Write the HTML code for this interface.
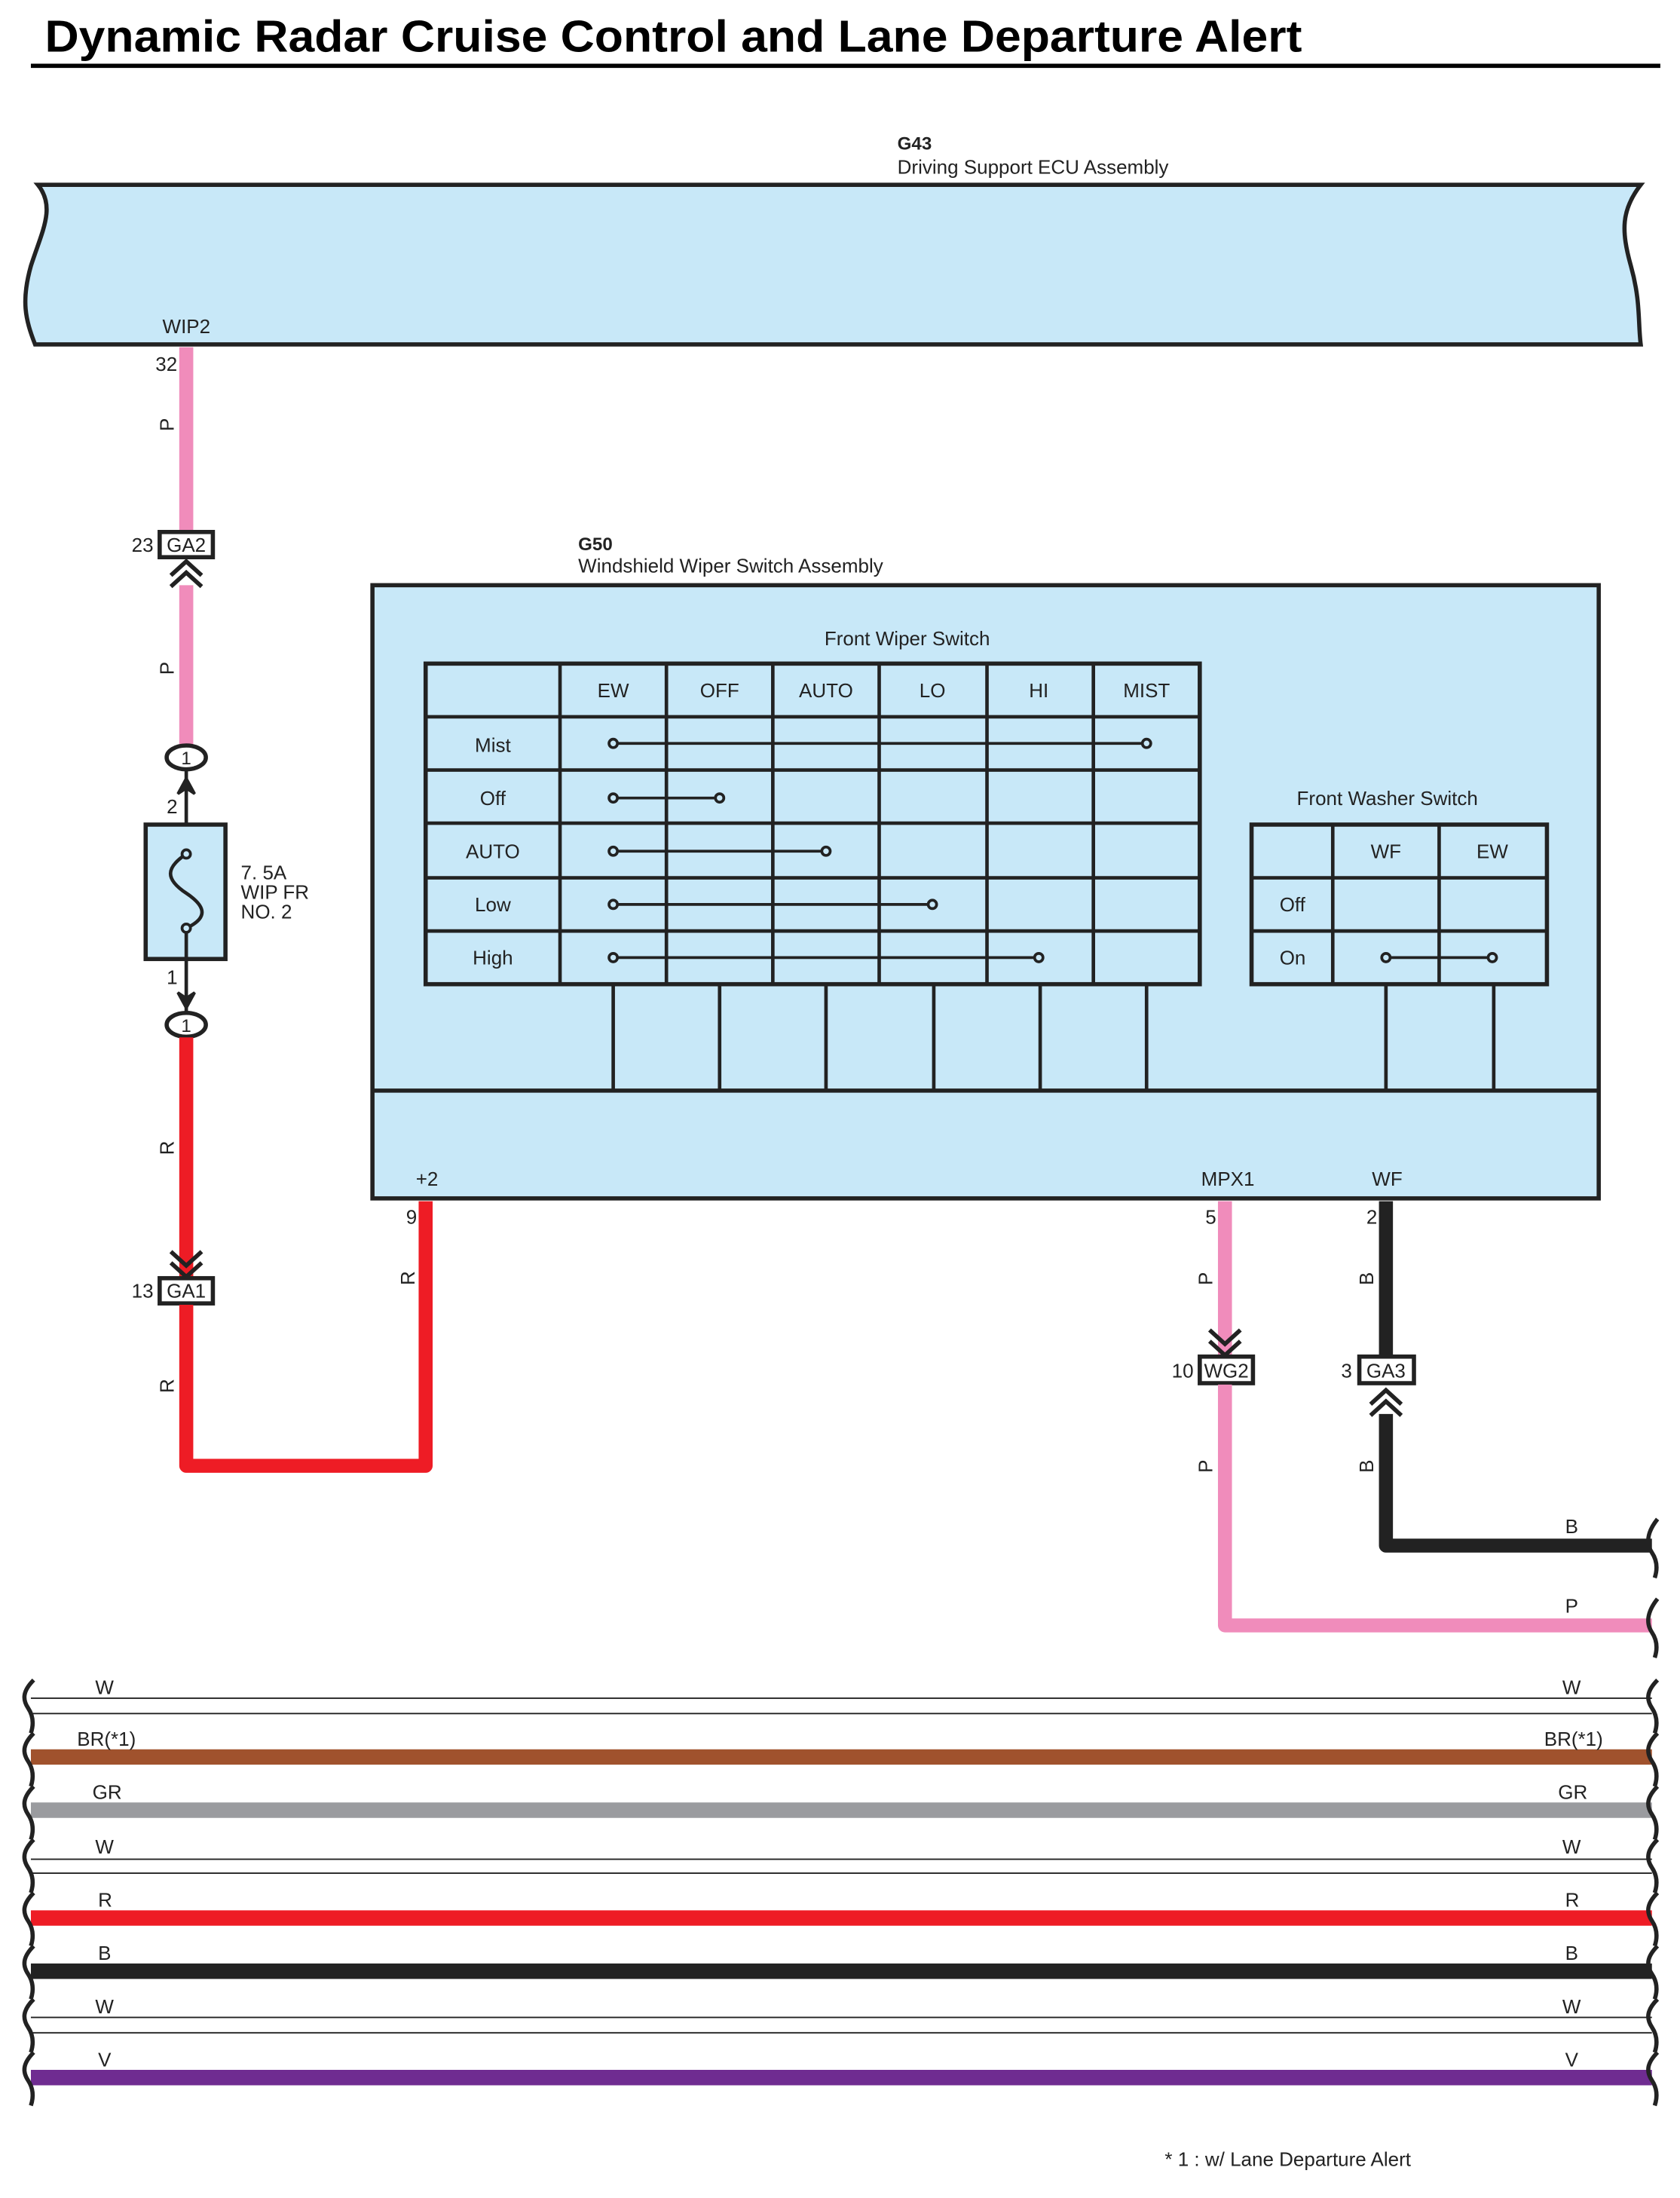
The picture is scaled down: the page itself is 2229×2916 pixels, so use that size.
<!DOCTYPE html>
<html><head><meta charset="utf-8"><style>
html,body{margin:0;padding:0;background:#fff}
svg{display:block}
text{font-family:"Liberation Sans Narrow","Liberation Sans",sans-serif;font-size:14px;fill:#222}
.t{font-family:"Liberation Sans",sans-serif;font-weight:bold;font-size:32px;fill:#000}
.b{font-family:"Liberation Sans",sans-serif;font-weight:bold;font-size:13px}
.c{text-anchor:middle}
</style></head><body>
<svg width="2229" height="2916" viewBox="0 0 1200 1570" xmlns="http://www.w3.org/2000/svg">
<defs>
<g id="dot"><circle r="3" fill="#c8e8f8" stroke="#222" stroke-width="2"/></g>
</defs>
<text x="32" y="37" class="t" textLength="898" lengthAdjust="spacingAndGlyphs">Dynamic Radar Cruise Control and Lane Departure Alert</text>
<line x1="22" y1="47" x2="1186" y2="47" stroke="#000" stroke-width="3"/>

<!-- G43 -->
<text x="641" y="107" class="b">G43</text>
<text x="641" y="124">Driving Support ECU Assembly</text>
<path d="M27,132 L1172,132 C1158,150 1158,165 1165,190 C1172,215 1170,230 1172,246 L25,246 C18,228 15,215 22,190 C30,165 40,148 27,132 Z" fill="#c8e8f8" stroke="#222" stroke-width="3"/>
<text x="116" y="238">WIP2</text>
<text x="111" y="265">32</text>

<!-- left pink wire -->
<line x1="133" y1="248" x2="133" y2="380" stroke="#f08cbb" stroke-width="10"/>
<text transform="translate(124,308) rotate(-90)">P</text>
<rect x="114" y="380" width="38" height="18" fill="#fff" stroke="#222" stroke-width="3"/>
<text x="133" y="394" class="c">GA2</text>
<text x="94" y="394">23</text>
<line x1="133" y1="418" x2="133" y2="533" stroke="#f08cbb" stroke-width="10"/>
<path d="M122,411 L133,401 L144,411 M122,419 L133,409 L144,419" fill="none" stroke="#222" stroke-width="3"/>
<text transform="translate(124,482) rotate(-90)">P</text>
<ellipse cx="133" cy="541" rx="14" ry="8.5" fill="#fff" stroke="#222" stroke-width="3"/>
<text x="133" y="546" class="c" style="font-size:13px">1</text>
<line x1="133" y1="550" x2="133" y2="590" stroke="#222" stroke-width="2.5"/>
<path d="M127,567 L133,556 L139,567 L133,563 Z" fill="#222" stroke="#222" stroke-width="2"/>
<text x="119" y="581">2</text>
<rect x="104" y="589" width="57" height="96" fill="#c8e8f8" stroke="#222" stroke-width="3"/>
<path d="M133,610 C118,620 118,628 133,638 C148,648 148,656 133,663" fill="none" stroke="#222" stroke-width="2.5"/>
<line x1="133" y1="663" x2="133" y2="685" stroke="#222" stroke-width="2.5"/>
<circle cx="133" cy="610" r="3" fill="#c8e8f8" stroke="#222" stroke-width="2"/>
<circle cx="133" cy="663" r="3" fill="#c8e8f8" stroke="#222" stroke-width="2"/>
<text x="172" y="628">7. 5A</text>
<text x="172" y="642">WIP FR</text>
<text x="172" y="656">NO. 2</text>
<line x1="133" y1="685" x2="133" y2="724" stroke="#222" stroke-width="2.5"/>
<path d="M127,709 L133,720 L139,709 L133,713 Z" fill="#222" stroke="#222" stroke-width="2"/>
<text x="119" y="703">1</text>
<ellipse cx="133" cy="732" rx="14" ry="8.5" fill="#fff" stroke="#222" stroke-width="3"/>
<text x="133" y="737" class="c" style="font-size:13px">1</text>

<!-- red wire -->
<path d="M133,741 L133,913" stroke="#ee1c25" stroke-width="10" fill="none"/>
<text transform="translate(124,825) rotate(-90)">R</text>
<path d="M122,894 L133,904 L144,894 M122,902 L133,912 L144,902" fill="none" stroke="#222" stroke-width="3"/>
<rect x="114" y="913" width="38" height="18" fill="#fff" stroke="#222" stroke-width="3"/>
<text x="133" y="927" class="c">GA1</text>
<text x="94" y="927">13</text>
<path d="M133,932 L133,1047 L304,1047 L304,858" stroke="#ee1c25" stroke-width="10" fill="none" stroke-linejoin="round"/>
<text transform="translate(124,995) rotate(-90)">R</text>
<text transform="translate(296,918) rotate(-90)">R</text>
<text x="290" y="874">9</text>

<!-- G50 -->
<text x="413" y="393" class="b">G50</text>
<text x="413" y="409">Windshield Wiper Switch Assembly</text>
<rect x="266" y="418" width="876" height="438" fill="#c8e8f8" stroke="#222" stroke-width="3"/>
<line x1="266" y1="779" x2="1142" y2="779" stroke="#222" stroke-width="3"/>
<text x="297" y="847">+2</text>
<text x="858" y="847">MPX1</text>
<text x="980" y="847">WF</text>
<text x="648" y="461" class="c">Front Wiper Switch</text>
<g stroke="#222" stroke-width="2.5" fill="none">
<rect x="304" y="474" width="553" height="229" stroke-width="3"/>
<line x1="400" y1="474" x2="400" y2="703"/><line x1="476" y1="474" x2="476" y2="703"/>
<line x1="552" y1="474" x2="552" y2="703"/><line x1="628" y1="474" x2="628" y2="703"/>
<line x1="705" y1="474" x2="705" y2="703"/><line x1="781" y1="474" x2="781" y2="703"/>
<line x1="304" y1="512" x2="857" y2="512"/><line x1="304" y1="550" x2="857" y2="550"/>
<line x1="304" y1="588" x2="857" y2="588"/><line x1="304" y1="627" x2="857" y2="627"/>
<line x1="304" y1="665" x2="857" y2="665"/>
<line x1="438" y1="703" x2="438" y2="779"/><line x1="514" y1="703" x2="514" y2="779"/>
<line x1="590" y1="703" x2="590" y2="779"/><line x1="667" y1="703" x2="667" y2="779"/>
<line x1="743" y1="703" x2="743" y2="779"/><line x1="819" y1="703" x2="819" y2="779"/>
<line x1="438" y1="531" x2="819" y2="531" stroke-width="2"/>
<line x1="438" y1="570" x2="514" y2="570" stroke-width="2"/>
<line x1="438" y1="608" x2="590" y2="608" stroke-width="2"/>
<line x1="438" y1="646" x2="666" y2="646" stroke-width="2"/>
<line x1="438" y1="684" x2="742" y2="684" stroke-width="2"/>
</g>
<use href="#dot" x="438" y="531"/><use href="#dot" x="819" y="531"/>
<use href="#dot" x="438" y="570"/><use href="#dot" x="514" y="570"/>
<use href="#dot" x="438" y="608"/><use href="#dot" x="590" y="608"/>
<use href="#dot" x="438" y="646"/><use href="#dot" x="666" y="646"/>
<use href="#dot" x="438" y="684"/><use href="#dot" x="742" y="684"/>
<g class="c">
<text x="438" y="498" class="c">EW</text><text x="514" y="498" class="c">OFF</text>
<text x="590" y="498" class="c">AUTO</text><text x="666" y="498" class="c">LO</text>
<text x="742" y="498" class="c">HI</text><text x="819" y="498" class="c">MIST</text>
<text x="352" y="537" class="c">Mist</text><text x="352" y="575" class="c">Off</text>
<text x="352" y="613" class="c">AUTO</text><text x="352" y="651" class="c">Low</text>
<text x="352" y="689" class="c">High</text>
</g>
<text x="991" y="575" class="c">Front Washer Switch</text>
<g stroke="#222" stroke-width="2.5" fill="none">
<rect x="894" y="589" width="211" height="114" stroke-width="3"/>
<line x1="952" y1="589" x2="952" y2="703"/><line x1="1028" y1="589" x2="1028" y2="703"/>
<line x1="894" y1="627" x2="1105" y2="627"/><line x1="894" y1="665" x2="1105" y2="665"/>
<line x1="990" y1="703" x2="990" y2="779"/><line x1="1067" y1="703" x2="1067" y2="779"/>
<line x1="990" y1="684" x2="1066" y2="684" stroke-width="2"/>
</g>
<use href="#dot" x="990" y="684"/><use href="#dot" x="1066" y="684"/>
<text x="990" y="613" class="c">WF</text><text x="1066" y="613" class="c">EW</text>
<text x="914" y="651">Off</text><text x="914" y="689">On</text>

<!-- MPX1 pink -->
<line x1="875" y1="858" x2="875" y2="968" stroke="#f08cbb" stroke-width="10"/>
<text x="861" y="874">5</text>
<text transform="translate(866,918) rotate(-90)">P</text>
<path d="M864,950 L875,960 L886,950 M864,958 L875,968 L886,958" fill="none" stroke="#222" stroke-width="3"/>
<rect x="857" y="969" width="38" height="19" fill="#fff" stroke="#222" stroke-width="3"/>
<text x="876" y="984" class="c">WG2</text>
<text x="837" y="984">10</text>
<path d="M875,989 L875,1161 L1180,1161" stroke="#f08cbb" stroke-width="10" fill="none" stroke-linejoin="round"/>
<text transform="translate(866,1052) rotate(-90)">P</text>
<text x="1118" y="1152">P</text>
<path d="M1184,1142 C1176,1152 1176,1160 1180,1166 C1184,1172 1184,1178 1182,1184" fill="none" stroke="#222" stroke-width="3"/>

<!-- WF black -->
<line x1="990" y1="858" x2="990" y2="970" stroke="#222" stroke-width="10"/>
<text x="976" y="874">2</text>
<text transform="translate(981,918) rotate(-90)">B</text>
<rect x="971" y="969" width="39" height="19" fill="#fff" stroke="#222" stroke-width="3"/>
<text x="990" y="984" class="c">GA3</text>
<text x="958" y="984">3</text>
<path d="M979,1003 L990,993 L1001,1003 M979,1011 L990,1001 L1001,1011" fill="none" stroke="#222" stroke-width="3"/>
<path d="M990,1010 L990,1104 L1180,1104" stroke="#222" stroke-width="10" fill="none" stroke-linejoin="round"/>
<text transform="translate(981,1052) rotate(-90)">B</text>
<text x="1118" y="1095">B</text>
<path d="M1184,1085 C1176,1095 1176,1103 1180,1109 C1184,1115 1184,1121 1182,1127" fill="none" stroke="#222" stroke-width="3"/>

<!-- bottom wires -->
<g>
<line x1="22" y1="1213" x2="1180" y2="1213" stroke="#222" stroke-width="1"/>
<line x1="22" y1="1224" x2="1180" y2="1224" stroke="#222" stroke-width="1"/>
<line x1="22" y1="1255" x2="1180" y2="1255" stroke="#a0522d" stroke-width="11"/>
<line x1="22" y1="1293" x2="1180" y2="1293" stroke="#9a9b9f" stroke-width="11"/>
<line x1="22" y1="1328" x2="1180" y2="1328" stroke="#222" stroke-width="1"/>
<line x1="22" y1="1338" x2="1180" y2="1338" stroke="#222" stroke-width="1"/>
<line x1="22" y1="1370" x2="1180" y2="1370" stroke="#ee1c25" stroke-width="11"/>
<line x1="22" y1="1408" x2="1180" y2="1408" stroke="#222" stroke-width="11"/>
<line x1="22" y1="1441" x2="1180" y2="1441" stroke="#222" stroke-width="1"/>
<line x1="22" y1="1452" x2="1180" y2="1452" stroke="#222" stroke-width="1"/>
<line x1="22" y1="1484" x2="1180" y2="1484" stroke="#6f2c91" stroke-width="11"/>
</g>
<g fill="none" stroke="#222" stroke-width="3">
<path id="wv" d="M24,1200 C16,1208 16,1214 20,1220 C24,1226 24,1232 22,1238"/>
<use href="#wv" y="38"/><use href="#wv" y="76"/><use href="#wv" y="114"/>
<use href="#wv" y="152"/><use href="#wv" y="190"/><use href="#wv" y="228"/><use href="#wv" y="266"/>
<use href="#wv" x="1160"/><use href="#wv" x="1160" y="38"/><use href="#wv" x="1160" y="76"/><use href="#wv" x="1160" y="114"/>
<use href="#wv" x="1160" y="152"/><use href="#wv" x="1160" y="190"/><use href="#wv" x="1160" y="228"/><use href="#wv" x="1160" y="266"/>
</g>
<text x="68" y="1210">W</text><text x="1116" y="1210">W</text>
<text x="55" y="1247">BR(*1)</text><text x="1103" y="1247">BR(*1)</text>
<text x="66" y="1285">GR</text><text x="1113" y="1285">GR</text>
<text x="68" y="1324">W</text><text x="1116" y="1324">W</text>
<text x="70" y="1362">R</text><text x="1118" y="1362">R</text>
<text x="70" y="1400">B</text><text x="1118" y="1400">B</text>
<text x="68" y="1438">W</text><text x="1116" y="1438">W</text>
<text x="70" y="1476">V</text><text x="1118" y="1476">V</text>

<text x="832" y="1547">* 1 : w/ Lane Departure Alert</text>
</svg>
</body></html>
